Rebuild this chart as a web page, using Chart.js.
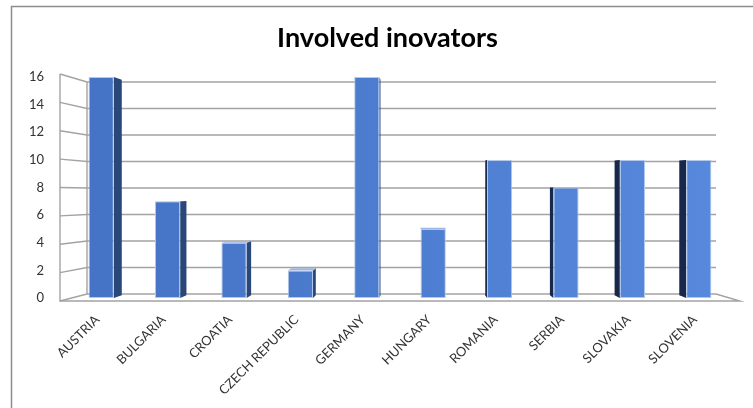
<!DOCTYPE html>
<html>
<head>
<meta charset="utf-8">
<script src="https://cdn.jsdelivr.net/npm/chart.js@4.4.0/dist/chart.umd.min.js"></script>
<style>
  html, body { margin: 0; padding: 0; background: #fff; }
  #wrap { width: 753px; height: 408px; position: relative; }
</style>
</head>
<body>
<div id="wrap"><canvas id="innovChart" width="753" height="408"></canvas></div>
<script>
const countries = ['AUSTRIA', 'BULGARIA', 'CROATIA', 'CZECH REPUBLIC', 'GERMANY', 'HUNGARY', 'ROMANIA', 'SERBIA', 'SLOVAKIA', 'SLOVENIA'];
const innovators = [16, 7, 4, 2, 16, 5, 10, 8, 10, 10];
const yTicks = [0, 2, 4, 6, 8, 10, 12, 14, 16];

// fake 3D: walls, gridlines and bar sides drawn around the real bars
const fake3d = {
    id: 'fake3d',
    beforeDraw(chart) {
        const ctx = chart.ctx;
        ctx.save();
        ctx.strokeStyle = '#8c8c8c';
        ctx.lineWidth = 1.5;
        ctx.beginPath();
        ctx.moveTo(11.5, 408);
        ctx.lineTo(11.5, 6.5);
        ctx.lineTo(753, 6.5);
        ctx.stroke();
        ctx.restore();
    },
    beforeDatasetsDraw(chart) {
        const ctx = chart.ctx;
        const area = chart.chartArea;
        const y = chart.scales.y;
        const B = y.getPixelForValue(0);
        const T = y.getPixelForValue(16);
        const backY = v => {
            const p = y.getPixelForValue(v);
            return (B - 4) + (p - B) * ((B - 4) - (T + 5)) / (B - T);
        };
        const frontY = v => {
            const p = y.getPixelForValue(v);
            return (B + 3) + (p - B) * ((B + 3) - (T - 3)) / (B - T);
        };
        const fx = area.left - 8, bx = area.left + 19, rx = area.right - 16;
        ctx.save();
        ctx.strokeStyle = '#a3a3a3';
        ctx.lineWidth = 1.4;
        yTicks.forEach(v => {
            ctx.beginPath();
            ctx.moveTo(fx, frontY(v));
            ctx.lineTo(bx, backY(v));
            ctx.lineTo(rx, backY(v));
            ctx.stroke();
        });
        ctx.beginPath();
        ctx.moveTo(fx, frontY(16));
        ctx.lineTo(fx, frontY(0));
        ctx.lineTo(area.right + 8, frontY(0));
        ctx.lineTo(rx, backY(0));
        ctx.stroke();
        ctx.beginPath();
        ctx.moveTo(bx, backY(16));
        ctx.lineTo(bx, backY(0));
        ctx.stroke();

        // bar side faces
        const vpX = 420, vpY = y.getPixelForValue(8), t = 0.026;
        const meta = chart.getDatasetMeta(0);
        meta.data.forEach(bar => {
            const p = bar.getProps(['x', 'y', 'base', 'width'], true);
            const xl = p.x - p.width / 2, xr = p.x + p.width / 2;
            const proj = (px, py) => [px + (vpX - px) * t, py + (vpY - py) * t];
            let edge = null, col = null;
            if (xr < vpX) { edge = xr; col = '#2a4779'; }
            else if (xl > vpX) { edge = xl; col = '#18284a'; }
            if (edge !== null) {
                const a = proj(edge, p.y), b = proj(edge, p.base);
                ctx.fillStyle = col;
                ctx.beginPath();
                ctx.moveTo(edge, p.y);
                ctx.lineTo(a[0], a[1]);
                ctx.lineTo(b[0], b[1]);
                ctx.lineTo(edge, p.base);
                ctx.closePath();
                ctx.fill();
            }
            if (p.y > vpY) {
                const a = proj(xl, p.y), b = proj(xr, p.y);
                ctx.fillStyle = '#9db5e3';
                ctx.beginPath();
                ctx.moveTo(xl, p.y);
                ctx.lineTo(xr, p.y);
                ctx.lineTo(b[0], b[1]);
                ctx.lineTo(a[0], a[1]);
                ctx.closePath();
                ctx.fill();
            }
        });
        ctx.restore();
    }
};

new Chart(document.getElementById('innovChart'), {
    type: 'bar',
    data: {
        labels: countries,
        datasets: [{
            label: 'Involved inovators',
            data: innovators,
            backgroundColor: function(context) {
                const area = context.chart.chartArea;
                if (!area) return '#4a78c9';
                const g = context.chart.ctx.createLinearGradient(area.left, 0, area.right, 0);
                g.addColorStop(0, '#4472c4');
                g.addColorStop(1, '#5789dc');
                return g;
            },
            borderColor: '#b4c8ec',
            borderWidth: 1,
            borderSkipped: false,
            barPercentage: 0.38,
            categoryPercentage: 1
        }]
    },
    options: {
        responsive: false,
        animation: false,
        layout: { padding: { left: 22, right: 0, top: 0, bottom: 0 } },
        plugins: {
            legend: { display: false },
            tooltip: { enabled: false },
            title: {
                display: true,
                text: 'Involved inovators',
                color: '#000',
                font: { family: 'Lato', size: 27, weight: 'bold', lineHeight: 1.2 },
                padding: { top: 21.8, bottom: 22.8 }
            }
        },
        scales: {
            x: {
                grid: { display: false },
                border: { display: false },
                ticks: {
                    autoSkip: false,
                    maxRotation: 45,
                    minRotation: 45,
                    padding: 6,
                    labelOffset: -4,
                    color: '#333333',
                    font: { family: 'Lato', size: 13 }
                },
                afterFit: scale => { scale.height = 110; }
            },
            y: {
                min: 0,
                max: 16,
                grid: { display: false },
                border: { display: false },
                ticks: {
                    stepSize: 2,
                    padding: 16,
                    color: '#333333',
                    font: { family: 'Lato', size: 13 }
                },
                afterFit: scale => { scale.width = 46; }
            },
            yRight: {
                position: 'right',
                grid: { display: false },
                border: { display: false },
                ticks: { display: false },
                afterFit: scale => { scale.width = 21; }
            }
        }
    },
    plugins: [fake3d]
});
</script>
</body>
</html>
